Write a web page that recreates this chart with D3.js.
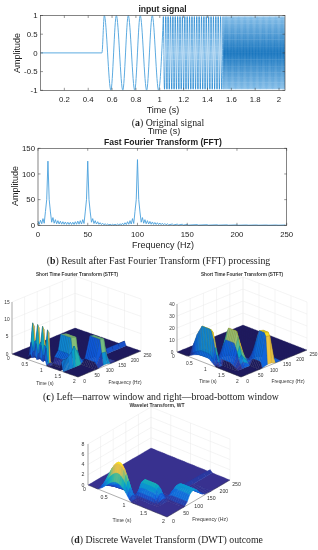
<!DOCTYPE html>
<html><head><meta charset="utf-8">
<script src="https://cdn.jsdelivr.net/npm/d3@7"></script>
<style>html,body{margin:0;padding:0;background:#fff}svg{display:block;filter:blur(0.35px)}</style>
</head><body><svg id="c" width="318" height="550"></svg>
<script>
// ---------- signal (turning points)
const signalBand1=[0,0.515,0.535,0.59,0.636,0.69,0.736,0.79,0.836,0.89,0.937,0.99,1.03];
const signalBand2=[1.03,1.04,1.05,1.06,1.07,1.08,1.09,1.10,1.11,1.12,1.13,1.14,1.15,1.16,1.17,1.18,1.19,1.20,1.21,1.22,1.23,1.24,1.25,1.26,1.27,1.28,1.29,1.30,1.31,1.32,1.33,1.34,1.35,1.36,1.37,1.38,1.39,1.40,1.41,1.42,1.43,1.44,1.45,1.46,1.47,1.48,1.49,1.50,1.51,1.52,1.53];
const signalBand3=[1.53,1.535,1.54,1.545,1.55,1.555,1.56,1.565,1.57,1.575,1.58,1.585,1.59,1.595,1.60,1.605,1.61,1.615,1.62,1.625,1.63,1.635,1.64,1.645,1.65,1.655,1.66,1.665,1.67,1.675,1.68,1.685,1.69,1.695,1.70,1.705,1.71,1.715,1.72,1.725,1.73,1.735,1.74,1.745,1.75,1.755,1.76,1.765,1.77,1.775,1.78,1.785,1.79,1.795,1.80,1.805,1.81,1.815,1.82,1.825,1.83,1.835,1.84,1.845,1.85,1.855,1.86,1.865,1.87,1.875,1.88,1.885,1.89,1.895,1.90,1.905,1.91,1.915,1.92,1.925,1.93,1.935,1.94,1.945,1.95,1.955,1.96,1.965,1.97,1.975,1.98,1.985,1.99,1.995,2.00,2.005,2.01,2.015,2.02,2.025,2.03,2.035,2.04,2.045,2.05];
const signalBand1Amp=[0,0,1,-1,1,-1,1,-1,1,-1,1,-1,.97];
const signalPeak=0.97;
const signalTicksX=[0.2,0.4,0.6,0.8,1,1.2,1.4,1.6,1.8,2];
const signalTicksY=[-1,-0.5,0,0.5,1];
// ---------- FFT
const fftFreq=[0,2.5,5,7.5,10,12.5,15,17.5,20,22.5,25,27.5,30,32.5,35,37.5,40,42.5,45,47.5,50,52.5,55,57.5,60,62.5,65,67.5,70,72.5,75,77.5,80,82.5,85,87.5,90,92.5,95,97.5,100,102.5,105,107.5,110,112.5,115,117.5,120,122.5,125,127.5,130,135,140,145,150,160,170,180,190,200,210,220,230,240,247.5];
const fftPeak=[8,10,13,27,125,26,15,11,9,8,7,6.5,6,6,6,7,8,9,11,26,125,26,13,9,7,5,4,3,2.5,2,2,2,2.5,3,4,5,7,9,13,27,128,26,15,11,9,7.5,6.5,5.5,5,4.5,4,3.5,3,2.5,2.2,2,1.7,1.4,1.2,1,.9,.8,.7,.7,.6,.6,.5];
const fftDip=[2,3,4,50,50,6,4,3,2.5,2.2,2,1.8,1.7,1.7,1.7,2,2.2,2.5,3.5,50,50,6,3.5,2.5,2,1.4,1,.8,.6,.5,.5,.5,.6,.8,1,1.4,2,2.5,3.5,50,50,6,4,3,2.5,2,1.7,1.5,1.3,1.2,1,.9,.8,.7,.6,.5,.4,.4,.3,.3,.2,.2,.2,.2,.2,.2,.2];
const fftTicksX=[0,50,100,150,200,250];
const fftTicksY=[0,50,100,150];
// ---------- 3-D surfaces
const tGrid=[0,.05,.1,.15,.2,.25,.3,.35,.4,.45,.5,.55,.6,.65,.7,.75,.8,.85,.9,.95,1,1.05,1.1,1.15,1.2,1.25,1.3,1.35,1.4,1.45,1.5,1.55,1.6,1.65,1.7,1.75,1.8,1.85,1.9,1.95,2];
const fGrid=[0,5,10,15,20,25,40,50,70,80,100,115,130,150,175,200,225,250];
// narrow-window STFT
const nEnv10 =[0,0,0,0,0,0,0,0,0,0,.45,1,.5,.55,1,.45,.55,1,.5,.45,.95,.05,0,0,0,0,0,0,0,0,0,0,0,0,0,0,0,0,0,0,0];
const nEnv50 =[0,0,0,0,0,0,0,0,0,0,0,0,0,0,0,0,0,0,0,0,0,.3,1,1,1,1,1,1,1,.5,.1,0,0,0,0,0,0,0,0,0,0];
const nEnv100=[0,0,0,0,0,0,0,0,0,0,0,0,0,0,0,0,0,0,0,0,0,0,0,0,0,0,0,0,0,0,0,.4,1,1,1,1,1,1,1,.5,.05];
const nEnvHit=[0,0,0,0,0,0,0,0,0,0,0,0,0,0,0,0,0,0,0,0,0,0,0,0,0,0,0,0,0,0,1,0,0,0,0,0,0,0,0,0,0];
const nProf10 =[2,5.2,10.5,9.5,1,0,0,0,0,0,0,0,0,0,0,0,0,0];
const nProf50 =[0,0,0,0,.3,2,3.5,7.8,7.4,.6,0,0,0,0,0,0,0,0];
const nProf100=[0,0,0,0,0,0,0,0,0,1.5,7.5,7.2,.6,0,0,0,0,0];
const nProfHit=[2.5,3,3,3,3,3,4,5,1.5,.8,.6,.6,.6,.7,1.2,1.2,1.2,1.2];
// broad-window STFT
const bEnv10 =[0,0,0,0,0,0,0,.1,.25,.4,.55,.7,.8,.9,1,1,1,1,1,1,.95,.75,.5,.3,.1,0,0,0,0,0,0,0,0,0,0,0,0,0,0,0,0];
const bEnv50 =[0,0,0,0,0,0,0,0,0,0,0,0,0,0,0,0,0,0,0,.05,.2,.4,.65,.85,1,1,1,1,1,1,.85,.6,.35,.15,0,0,0,0,0,0,0];
const bEnv100=[0,0,0,0,0,0,0,0,0,0,0,0,0,0,0,0,0,0,0,0,0,0,0,0,0,0,0,0,0,0,.1,.25,.45,.65,.85,1,1,1,1,.9,.05];
const bProf10 =[5,8,28,27,8,1,0,0,0,0,0,0,0,0,0,0,0,0];
const bProf50 =[0,0,0,0,0,4,19,28,9,1.5,0,0,0,0,0,0,0,0];
const bProf100=[0,0,0,0,0,0,0,0,0,5,27,26,4,0,0,0,0,0];
// wavelet
const wGrid=[0,4,8,12,16,20,25,30,35,40,45,50,55,60,65,70,80,90,100,110,120,130,140,150,175,200,225,250];
const wEnv10 =[0,0,0,0,0,.02,.1,.2,.33,.47,.62,.76,.87,.95,1,1,.95,.86,.72,.55,.35,.15,.03,0,0,0,0,0,0,0,0,0,0,0,0,0,0,0,0,0,0];
const wEnv50 =[0,0,0,0,0,0,0,0,0,0,0,0,0,0,0,0,0,0,0,0,.3,.85,1,1,1,1,1,1,.98,.85,.5,.15,0,0,0,0,0,0,0,0,0];
const wEnv100=[0,0,0,0,0,0,0,0,0,0,0,0,0,0,0,0,0,0,0,0,0,0,0,0,0,0,0,0,0,0,.15,.55,.9,1,1,1,1,1,1,1,1];
const wEnvHit=[0,0,0,0,0,0,0,0,0,0,0,0,0,0,0,0,0,0,0,0,0,0,0,0,0,0,0,0,0,0,1,0,0,0,0,0,0,0,0,0,0];
const wProf10 =[2.8,4.4,6.1,6.3,5,3.2,1.6,.6,.2,0,0,0,0,0,0,0,0,0,0,0,0,0,0,0,0,0,0,0];
const wProf50 =[0,0,0,0,0,0,0,.3,.9,1.7,2.5,2.9,2.9,2.5,1.6,.7,.15,0,0,0,0,0,0,0,0,0,0,0];
const wProf100=[0,0,0,0,0,0,0,0,0,0,0,0,0,0,0,.1,.65,1.75,2.2,2.2,1.75,1,.45,.15,0,0,0,0];
const wProfHit=[0,0,0,0,0,0,0,0,0,0,0,0,0,0,0,0,0,0,0,0,.3,.5,.5,.5,.5,.5,.5,.4];
const timeTicks=[0,.5,1,1.5,2];
const freqTicks=[0,50,100,150,200,250];
const parula=["#352a87","#0f5cdd","#1481d6","#06a4ca","#2eb7a4","#87bf77","#d1bb59","#fec832","#f9fb0e"];
const titles={a:"input signal",b:"Fast Fourier Transform (FFT)",stft:"Short Time Fourier Transform (STFT)",wt:"Wavelet Transform, WT"};
// ---------- layout
const svg=d3.select("#c"),sans="'Liberation Sans',Arial,sans-serif",serif="'Liberation Serif',serif",ink="#333";
function txt(x,y,s,size,o={}){return svg.append("text").attr("x",x).attr("y",y).attr("font-family",o.serif?serif:sans).attr("font-size",size).attr("font-weight",o.bold?"bold":"normal").attr("fill",o.fill||"#222").attr("text-anchor",o.anchor||"middle").attr("transform",o.rot?`rotate(${o.rot} ${x} ${y})`:null).text(s);}
function frame(L,R,T,B,xs,ys,xt,yt){
  const g=svg.append("g");
  g.append("rect").attr("x",L).attr("y",T).attr("width",R-L).attr("height",B-T).attr("fill","none").attr("stroke",ink).attr("stroke-width",.6);
  xt.forEach(v=>{g.append("line").attr("x1",xs(v)).attr("x2",xs(v)).attr("y1",B).attr("y2",B-2.5).attr("stroke",ink).attr("stroke-width",.5);
    g.append("line").attr("x1",xs(v)).attr("x2",xs(v)).attr("y1",T).attr("y2",T+2.5).attr("stroke",ink).attr("stroke-width",.5);
    txt(xs(v),B+11.5,String(v),7.8);});
  yt.forEach(v=>{g.append("line").attr("x1",L).attr("x2",L+2.5).attr("y1",ys(v)).attr("y2",ys(v)).attr("stroke",ink).attr("stroke-width",.5);
    g.append("line").attr("x1",R).attr("x2",R-2.5).attr("y1",ys(v)).attr("y2",ys(v)).attr("stroke",ink).attr("stroke-width",.5);
    txt(L-3,ys(v)+2.8,String(v),7.8,{anchor:"end"});});
}
// panel a
{const L=40.5,R=285,T=15.5,B=90.3,xs=d3.scaleLinear([0,2.05],[L,R]),ys=d3.scaleLinear([-1,1],[B,T]);
 const defs=svg.append("defs");
 defs.append("clipPath").attr("id","ca").append("rect").attr("x",L).attr("y",T).attr("width",R-L).attr("height",B-T);
 const grad=(id,edge,mid)=>{const g=defs.append("linearGradient").attr("id",id).attr("gradientUnits","userSpaceOnUse").attr("x1",0).attr("x2",0).attr("y1",T).attr("y2",B);
   [[0,edge],[.5,mid],[1,edge]].forEach(s=>g.append("stop").attr("offset",s[0]).attr("stop-color",s[1]));};
 grad("g2","#2b8bd2","#86bfe9");grad("g3","#86bfe9","#1674be");
 const line=d3.line().x(d=>xs(d[0])).y(d=>ys(d[1]));
 const smooth=line.curve(d3.curveMonotoneX);
 const zig=(arr)=>arr.map((t,i)=>[t,(i%2===0?1:-1)*signalPeak]);
 const plot=(pts,col,w)=>svg.append("path").attr("clip-path","url(#ca)").attr("d",smooth(pts)).attr("fill","none").attr("stroke",col).attr("stroke-width",w);
 plot(signalBand1.map((t,i)=>[t,signalBand1Amp[i]]),"#5dabe0",1);
 plot(zig(signalBand2),"url(#g2)",.95);
 plot(zig(signalBand3),"url(#g3)",1);
 frame(L,R,T,B,xs,ys,signalTicksX,signalTicksY);
 txt(162.5,12,titles.a,8.6,{bold:true});
 txt(163,113,"Time (s)",9);
 txt(20,53,"Amplitude",9,{rot:-90});
 txt(164,134,"Time (s)",9);
 svg.append("rect").attr("x",120).attr("y",118).attr("width",90).attr("height",10).attr("fill","#fff");
 const c=txt(168,125.5,"",9.8,{serif:true}); c.append("tspan").text("("); c.append("tspan").attr("font-weight","bold").text("a"); c.append("tspan").text(") Original signal");
}
// panel b
{const L=38,R=286.7,T=148.3,B=225.3,xs=d3.scaleLinear([0,250],[L,R]),ys=d3.scaleLinear([0,150],[B,T]);
 const pts=[];fftFreq.forEach((f,i)=>{pts.push([f,fftPeak[i]]);pts.push([f+1.25,fftDip[i]]);});
 const line=d3.line().x(d=>xs(d[0])).y(d=>ys(d[1]));
 svg.append("path").attr("d",line(pts)).attr("fill","none").attr("stroke","#4aa0dc").attr("stroke-width",.9);
 frame(L,R,T,B,xs,ys,fftTicksX,fftTicksY);
 txt(163,144.5,titles.b,8.6,{bold:true});
 txt(163,248,"Frequency (Hz)",9);
 txt(18,186,"Amplitude",9,{rot:-90});
 const c=txt(158.5,264,"",9.8,{serif:true}); c.append("tspan").text("("); c.append("tspan").attr("font-weight","bold").text("b"); c.append("tspan").text(") Result after Fast Fourier Transform (FFT) processing");
}
// 3-D panels
function surf3d(p){
  const {left,back,right,zTop,zMax,cMax,times,freqs,layers,zTicks,edges,fs,floor}=p;
  const tx=d3.scaleLinear([0,2],[0,right[0]-back[0]]),ty=d3.scaleLinear([0,2],[0,right[1]-back[1]]);
  const fx=d3.scaleLinear([0,250],[0,back[0]-left[0]]),fy=d3.scaleLinear([0,250],[0,back[1]-left[1]]);
  const zy=d3.scaleLinear([0,zMax],[0,zTop]);
  const P=(t,f,z)=>[left[0]+tx(t)+fx(f),left[1]+ty(t)+fy(f)-zy(z)];
  const col=d3.scaleLinear().domain(parula.map((_,i)=>i/(parula.length-1)*cMax)).range(parula).clamp(true);
  const g=svg.append("g"),ln=(a,b,c,w)=>g.append("line").attr("x1",a[0]).attr("y1",a[1]).attr("x2",b[0]).attr("y2",b[1]).attr("stroke",c).attr("stroke-width",w);
  const gridC="#e8e8e8";
  zTicks.forEach(z=>{ln(P(0,0,z),P(0,250,z),gridC,.5);ln(P(0,250,z),P(2,250,z),gridC,.5);});
  freqTicks.forEach(f=>ln(P(0,f,0),P(0,f,zMax),gridC,.5));
  timeTicks.forEach(t=>ln(P(t,250,0),P(t,250,zMax),gridC,.5));
  const Z=times.map((_,i)=>freqs.map((_,j)=>d3.sum(layers,l=>l.env[i]*l.prof[j])));
  const line=d3.line();
  const faces=[];let flatD="";
  for(let i=0;i<times.length-1;i++)for(let j=freqs.length-2;j>=0;j--){
    const a=P(times[i],freqs[j],Z[i][j]),b=P(times[i+1],freqs[j],Z[i+1][j]),c=P(times[i+1],freqs[j+1],Z[i+1][j+1]),d=P(times[i],freqs[j+1],Z[i][j+1]);
    const top=Math.max(Z[i][j],Z[i+1][j],Z[i+1][j+1],Z[i][j+1]);
    const v=edges?Z[i][j]:(Z[i][j]+Z[i+1][j]+Z[i+1][j+1]+Z[i][j+1])/4;
    if(top===0){flatD+=line([a,b,c,d])+"Z";continue;}
    faces.push({d:line([a,b,c,d])+"Z",v});
  }
  g.append("path").attr("d",flatD).attr("fill",floor).attr("stroke",floor).attr("stroke-width",.2);
  faces.forEach(f=>{
    const dark=edges&&f.v<0.02*cMax, fc=dark?floor:col(f.v);
    g.append("path").attr("d",f.d).attr("fill",fc).attr("stroke",edges?d3.color(fc).darker(.8).formatHex():fc).attr("stroke-width",edges?.35:.6);
  });
  ln(P(0,0,0),P(0,0,zMax),ink,.4);ln(P(0,0,0),P(2,0,0),ink,.4);ln(P(2,0,0),P(2,250,0),ink,.4);
  const lab=(x,y,s)=>txt(x,y,s,fs,{fill:"#333"});
  zTicks.forEach(z=>{const q=P(0,0,z);lab(q[0]-5,q[1]+1.6,String(z));});
  timeTicks.forEach(t=>{const q=P(t,0,0);lab(q[0]-3.6,q[1]+6.4,String(t));});
  freqTicks.forEach(f=>{const q=P(2,f,0);lab(q[0]+6.5,q[1]+5.6,String(f));});
  txt(p.titleX,p.titleY,p.title,p.titleSize,{bold:true,fill:"#333"});
  txt(p.timeLab[0],p.timeLab[1],"Time (s)",fs,{fill:"#333"});
  txt(p.freqLab[0],p.freqLab[1],"Frequency (Hz)",fs,{fill:"#333"});
}
surf3d({left:[12,354],back:[75,328],right:[141,351],zTop:52,zMax:15,cMax:12.5,times:tGrid,freqs:fGrid,zTicks:[0,5,10,15],edges:true,fs:4.8,floor:"#1e1b5e",
 layers:[{env:nEnv10,prof:nProf10},{env:nEnv50,prof:nProf50},{env:nEnv100,prof:nProf100},{env:nEnvHit,prof:nProfHit}],
 title:titles.stft,titleX:77,titleY:275.5,titleSize:4.7,timeLab:[45,385],freqLab:[125,383.5]});
surf3d({left:[177,352],back:[243,325],right:[307,350],zTop:48,zMax:40,cMax:29,times:tGrid,freqs:fGrid,zTicks:[0,10,20,30,40],edges:true,fs:4.8,floor:"#1e1b5e",
 layers:[{env:bEnv10,prof:bProf10},{env:bEnv50,prof:bProf50},{env:bEnv100,prof:bProf100}],
 title:titles.stft,titleX:242,titleY:275.5,titleSize:4.7,timeLab:[208,383],freqLab:[288,383]});
surf3d({left:[88,485],back:[151,448],right:[230,480],zTop:41,zMax:8,cMax:6.5,times:tGrid,freqs:wGrid,zTicks:[0,2,4,6,8],edges:false,fs:5.2,floor:"#38318f",
 layers:[{env:wEnv10,prof:wProf10},{env:wEnv50,prof:wProf50},{env:wEnv100,prof:wProf100},{env:wEnvHit,prof:wProfHit}],
 title:titles.wt,titleX:157,titleY:407,titleSize:5,timeLab:[122,522],freqLab:[210,521]});
{const c=txt(161,400,"",9.8,{serif:true}); c.append("tspan").text("("); c.append("tspan").attr("font-weight","bold").text("c"); c.append("tspan").text(") Left—narrow window and right—broad-bottom window");
 const d=txt(167,543,"",9.8,{serif:true}); d.append("tspan").text("("); d.append("tspan").attr("font-weight","bold").text("d"); d.append("tspan").text(") Discrete Wavelet Transform (DWT) outcome");}
</script></body></html>
